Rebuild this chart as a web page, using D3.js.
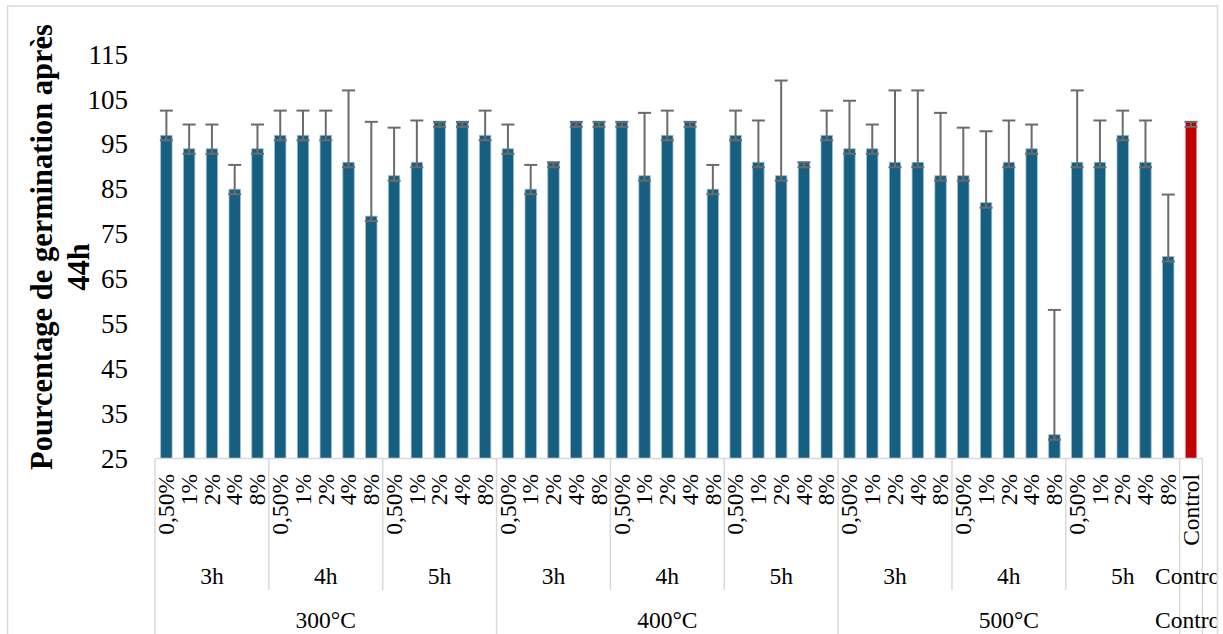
<!DOCTYPE html>
<html>
<head>
<meta charset="utf-8">
<script src="https://cdn.jsdelivr.net/npm/d3@7/dist/d3.min.js"></script>
<style>
  html, body { margin: 0; padding: 0; background: #fff; }
  svg { display: block; font-family: "Liberation Serif", "Times New Roman", serif; }
</style>
</head>
<body>
<svg id="chart" width="1223" height="634"></svg>
<script>
// Germination (%) after 44h per treatment: temperature > duration > dose
const temperatures = ["300°C", "400°C", "500°C"];
const durations = ["3h", "4h", "5h"];
const doses = ["0,50%", "1%", "2%", "4%", "8%"];
const controlLabel = "Control";

const germ300 = [97, 94, 94, 85, 94,  97, 97, 97, 91, 79,  88, 91, 100, 100, 97];
const germ400 = [94, 85, 91, 100, 100,  100, 88, 97, 100, 85,  97, 91, 88, 91, 97];
const germ500 = [94, 94, 91, 91, 88,  88, 82, 91, 94, 30.3,  91, 91, 97, 91, 70];
const germControl = 100;

// standard deviations (drawn upward from each bar)
const sd300 = [5.5, 5.4, 5.4, 5.4, 5.4,  5.5, 5.5, 5.5, 16, 21,  10.7, 9.3, 0, 0, 5.5];
const sd400 = [5.4, 5.4, 0, 0, 0,  0, 14, 5.5, 0, 5.4,  5.5, 9.3, 21.2, 0, 5.5];
const sd500 = [10.7, 5.4, 16, 16, 14,  10.7, 15.9, 9.3, 5.4, 27.8,  16, 9.3, 5.5, 9.3, 13.8];
const sdControl = 0;

const yTicks = [25, 35, 45, 55, 65, 75, 85, 95, 105, 115];
const yTitle = ["Pourcentage de germination après", "44h"];

// flatten into one row per bar
const germBlocks = [germ300, germ400, germ500];
const sdBlocks = [sd300, sd400, sd500];
const rows = [];
temperatures.forEach((t, ti) => {
  durations.forEach((h, hi) => {
    doses.forEach((d, di) => {
      const k = hi * doses.length + di;
      rows.push({ temp: t, dur: h, dose: d, value: germBlocks[ti][k], sd: sdBlocks[ti][k], control: false });
    });
  });
});
rows.push({ temp: controlLabel, dur: controlLabel, dose: controlLabel, value: germControl, sd: sdControl, control: true });
rows.forEach((r, i) => r.i = i);

const svg = d3.select("#chart");

const x = d3.scaleBand()
  .domain(d3.range(rows.length))
  .range([155, 1202.4])
  .paddingInner(0.5)
  .paddingOuter(0.25);
const y = d3.scaleLinear().domain([25, 115]).range([458.5, 54.5]);

const step = x.step();
const slotLeft = i => x(i) - step * 0.25;
const cx = i => x(i) + x.bandwidth() / 2;

const lineColor = "#d9d9d9";

// chart frame
svg.append("rect")
  .attr("x", 7.5).attr("y", 6).attr("width", 1210).attr("height", 700)
  .attr("fill", "none").attr("stroke", lineColor).attr("stroke-width", 1.5);

svg.append("defs").append("clipPath").attr("id", "frameClip")
  .append("rect").attr("x", 8).attr("y", 6).attr("width", 1208.5).attr("height", 640);

// y axis (labels only)
const yAxis = svg.append("g")
  .attr("transform", "translate(155,0)")
  .call(d3.axisLeft(y).tickValues(yTicks).tickSize(0).tickPadding(27));
yAxis.select(".domain").remove();
yAxis.selectAll("text")
  .attr("font-size", 27)
  .attr("font-family", "'Liberation Serif', 'Times New Roman', serif")
  .attr("fill", "#000");

// y axis title
const title = svg.append("g").attr("font-weight", "bold").attr("font-size", 30.5).attr("fill", "#000");
title.append("text")
  .attr("transform", "translate(52,247) rotate(-90)")
  .attr("text-anchor", "middle")
  .text(yTitle[0]);
title.append("text")
  .attr("transform", "translate(89,267) rotate(-90)")
  .attr("text-anchor", "middle")
  .text(yTitle[1]);

// bars
svg.append("g").selectAll("rect")
  .data(rows)
  .join("rect")
  .attr("x", d => x(d.i))
  .attr("width", x.bandwidth())
  .attr("y", d => y(d.value))
  .attr("height", d => y(25) - y(d.value))
  .attr("fill", d => d.control ? "#c00000" : "#175f81")
  .attr("stroke", d => d.control ? "#e8a0a0" : "#9bbdd0")
  .attr("stroke-width", 0.8);

// error bars
const errColor = "#6b6b6b";
const capHalf = 6.5;
const eg = svg.append("g").attr("stroke", errColor).attr("stroke-width", 2);
rows.forEach(d => {
  const c = cx(d.i);
  const top = y(d.value + d.sd);
  const base = y(d.value);
  eg.append("line").attr("x1", c).attr("x2", c).attr("y1", top).attr("y2", base + 5);
  eg.append("line").attr("x1", c - capHalf).attr("x2", c + capHalf).attr("y1", top).attr("y2", top);
  eg.append("line").attr("x1", c - capHalf).attr("x2", c + capHalf).attr("y1", base + 5).attr("y2", base + 5);
});

// category axis line
svg.append("line")
  .attr("x1", 155).attr("x2", 1202.4)
  .attr("y1", 458.5).attr("y2", 458.5)
  .attr("stroke", lineColor).attr("stroke-width", 1.5);

// group separators: duration boundaries stop above the temperature row
const seps = [];
for (let k = 0; k < 9; k++) {
  seps.push({ x: slotLeft(k * doses.length), full: k % durations.length === 0 });
}
seps.push({ x: slotLeft(rows.length - 1), full: true });
seps.push({ x: slotLeft(rows.length - 1) + step, full: true });
svg.append("g").selectAll("line")
  .data(seps)
  .join("line")
  .attr("x1", d => d.x).attr("x2", d => d.x)
  .attr("y1", 458.5).attr("y2", d => d.full ? 640 : 590)
  .attr("stroke", lineColor).attr("stroke-width", 1.5);

// level 1: dose labels (rotated)
const labelFont = 23.5;
svg.append("g").selectAll("text")
  .data(rows)
  .join("text")
  .attr("transform", d => `translate(${cx(d.i)},474) rotate(-90)`)
  .attr("dy", "0.33em")
  .attr("text-anchor", "end")
  .attr("font-size", labelFont)
  .attr("fill", "#000")
  .text(d => d.dose);

const labels = svg.append("g").attr("clip-path", "url(#frameClip)")
  .attr("font-size", labelFont).attr("fill", "#000").attr("text-anchor", "middle");

// level 2: durations
const durGroups = d3.groups(rows, d => d.temp + "|" + d.dur);
durGroups.forEach(([, items]) => {
  const mid = (cx(items[0].i) + cx(items[items.length - 1].i)) / 2;
  labels.append("text").attr("x", mid).attr("y", 584).text(items[0].dur);
});

// level 3: temperatures
const tempGroups = d3.groups(rows, d => d.temp);
tempGroups.forEach(([t, items]) => {
  const mid = (cx(items[0].i) + cx(items[items.length - 1].i)) / 2;
  labels.append("text").attr("x", mid).attr("y", 628).text(t);
});
</script>
</body>
</html>
